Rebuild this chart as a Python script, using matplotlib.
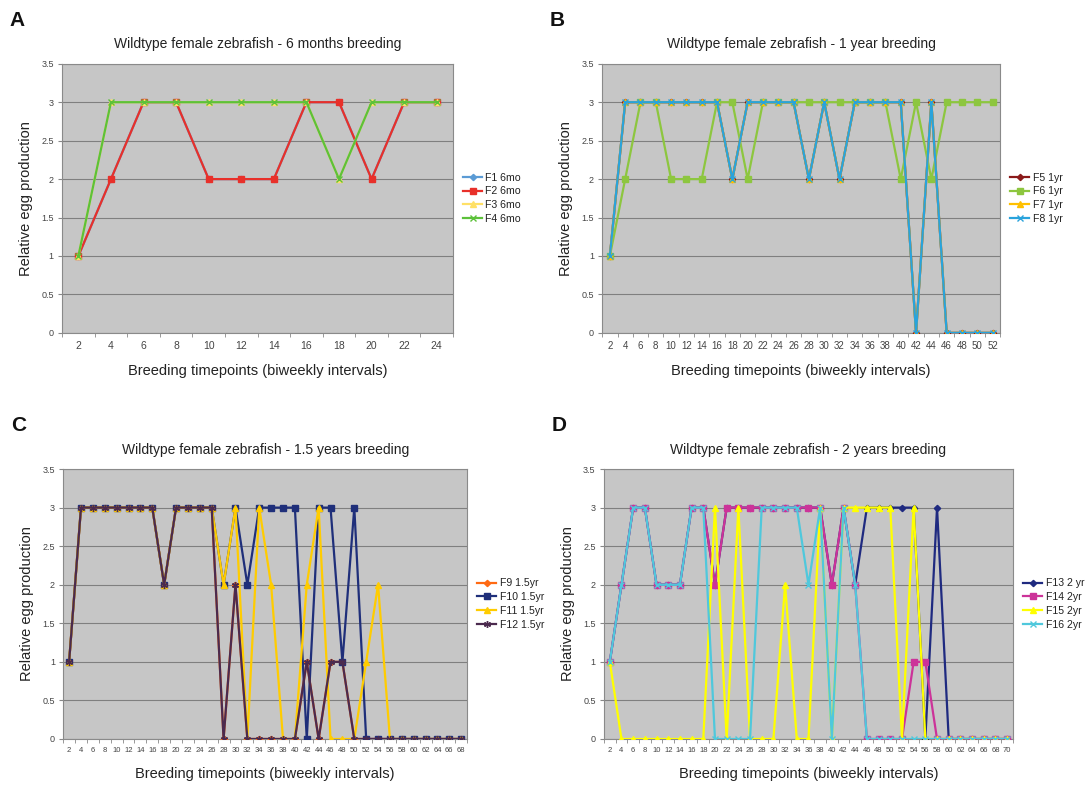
import matplotlib
matplotlib.use("Agg")
import matplotlib.pyplot as plt
from matplotlib.ticker import FixedLocator, FuncFormatter

plt.rcParams['font.family'] = ['Liberation Sans', 'DejaVu Sans']

# ---------------- Data ----------------
# Panel A: 6 months
xA = [2, 4, 6, 8, 10, 12, 14, 16, 18, 20, 22, 24]
F1 = [1, 2, 3, 3, 2, 2, 2, 3, 3, 2, 3, 3]
F2 = [1, 2, 3, 3, 2, 2, 2, 3, 3, 2, 3, 3]
F3 = [1, 3, 3, 3, 3, 3, 3, 3, 2, 3, 3, 3]
F4 = [1, 3, 3, 3, 3, 3, 3, 3, 2, 3, 3, 3]

# Panel B: 1 year
xB = list(range(2, 53, 2))
F5 = [1, 3, 3, 3, 3, 3, 3, 3, 2, 3, 3, 3, 3, 2, 3, 2, 3, 3, 3, 3, 0, 3, 0, 0, 0, 0]
F6 = [1, 2, 3, 3, 2, 2, 2, 3, 3, 2, 3, 3, 3, 3, 3, 3, 3, 3, 3, 2, 3, 2, 3, 3, 3, 3]
F7 = [1, 3, 3, 3, 3, 3, 3, 3, 2, 3, 3, 3, 3, 2, 3, 2, 3, 3, 3, 3, 0, 3, 0, 0, 0, 0]
F8 = [1, 3, 3, 3, 3, 3, 3, 3, 2, 3, 3, 3, 3, 2, 3, 2, 3, 3, 3, 3, 0, 3, 0, 0, 0, 0]

# Panel C: 1.5 years
xC = list(range(2, 69, 2))
F9 = [1, 3, 3, 3, 3, 3, 3, 3, 2, 3, 3, 3, 3, 0, 2, 0, 0, 0, 0, 0, 1, 0, 1, 1, 0,
      0, 0, 0, 0, 0, 0, 0, 0, 0]
F10 = [1, 3, 3, 3, 3, 3, 3, 3, 2, 3, 3, 3, 3, 2, 3, 2, 3, 3, 3, 3, 0, 3, 3, 1, 3,
       0, 0, 0, 0, 0, 0, 0, 0, 0]
F11 = [1, 3, 3, 3, 3, 3, 3, 3, 2, 3, 3, 3, 3, 2, 3, 0, 3, 2, 0, 0, 2, 3, 0, 0, 0,
       1, 2, 0, 0, 0, 0, 0, 0, 0]
F12 = [1, 3, 3, 3, 3, 3, 3, 3, 2, 3, 3, 3, 3, 0, 2, 0, 0, 0, 0, 0, 1, 0, 1, 1, 0,
       0, 0, 0, 0, 0, 0, 0, 0, 0]

# Panel D: 2 years
xD = list(range(2, 71, 2))
F13 = [1, 2, 3, 3, 2, 2, 2, 3, 3, 2, 3, 3, 3, 3, 3, 3, 3, 3, 3, 2, 3, 2, 3, 3, 3,
       3, 3, 0, 3, 0, 0, 0, 0, 0, 0]
F14 = [1, 2, 3, 3, 2, 2, 2, 3, 3, 2, 3, 3, 3, 3, 3, 3, 3, 3, 3, 2, 3, 2, 0, 0, 0,
       0, 1, 1, 0, 0, 0, 0, 0, 0, 0]
F15 = [1, 0, 0, 0, 0, 0, 0, 0, 0, 3, 0, 3, 0, 0, 0, 2, 0, 0, 3, 0, 3, 3, 3, 3, 3,
       0, 3, 0, 0, 0, 0, 0, 0, 0, 0]
F16 = [1, 2, 3, 3, 2, 2, 2, 3, 3, 0, 0, 0, 0, 3, 3, 3, 3, 2, 3, 0, 3, 2, 0, 0, 0,
       0, 0, 0, 0, 0, 0, 0, 0, 0, 0]

yticks = [0, 0.5, 1, 1.5, 2, 2.5, 3, 3.5]

panels = [
    dict(letter='A', title='Wildtype female zebrafish - 6 months breeding', x=xA,
         series=[('F1 6mo', F1, '#5b9bd5', 'D'), ('F2 6mo', F2, '#e8302a', 's'),
                 ('F3 6mo', F3, '#ffe066', '^'), ('F4 6mo', F4, '#5cc13a', 'x')],
         rect=[0.057, 0.577, 0.359, 0.342], tfs=7.5),
    dict(letter='B', title='Wildtype female zebrafish - 1 year breeding', x=xB,
         series=[('F5 1yr', F5, '#8b1a1a', 'D'), ('F6 1yr', F6, '#8dc63f', 's'),
                 ('F7 1yr', F7, '#ffc000', '^'), ('F8 1yr', F8, '#29a3dc', 'x')],
         rect=[0.553, 0.577, 0.3655, 0.342], tfs=7),
    dict(letter='C', title='Wildtype female zebrafish - 1.5 years breeding', x=xC,
         series=[('F9 1.5yr', F9, '#ff6a13', 'D'), ('F10 1.5yr', F10, '#1f2f7a', 's'),
                 ('F11 1.5yr', F11, '#ffcc00', '^'), ('F12 1.5yr', F12, '#4b2a4e', (6, 2, 0))],
         rect=[0.058, 0.061, 0.371, 0.343], tfs=5.5),
    dict(letter='D', title='Wildtype female zebrafish - 2 years breeding', x=xD,
         series=[('F13 2 yr', F13, '#1f2a80', 'D'), ('F14 2yr', F14, '#cc3399', 's'),
                 ('F15 2yr', F15, '#ffff00', '^'), ('F16 2yr', F16, '#4fc8dc', 'x')],
         rect=[0.5546, 0.061, 0.3756, 0.343], tfs=5.5),
]

msizes = {'D': 3.2, 's': 4.3, '^': 4.8, 'x': 4.5}

fig = plt.figure(figsize=(10.89, 7.87), dpi=100)
fig.patch.set_facecolor('white')

for p in panels:
    ax = fig.add_axes(p['rect'])
    ax.set_facecolor('#c6c6c6')
    n = len(p['x'])
    idx = list(range(n))
    for lab, vals, col, mk in p['series']:
        ms = msizes.get(mk, 4.8) if isinstance(mk, str) else 5
        ax.plot(idx, vals, color=col, lw=1.6, marker=mk, ms=ms,
                mec=col, mfc=col, mew=1.0, label=lab, zorder=3)
    ax.set_xlim(-0.5, n - 0.5)
    ax.set_ylim(0, 3.5)
    ax.set_yticks(yticks)
    ax.yaxis.set_major_formatter(FuncFormatter(lambda v, pos: '%g' % v))
    ax.set_xticks(idx)
    ax.set_xticklabels([str(v) for v in p['x']])
    ax.xaxis.set_minor_locator(FixedLocator([i - 0.5 for i in range(n + 1)]))
    ax.tick_params(axis='x', which='major', length=0, labelsize=p['tfs'],
                   colors='#444444', pad=6)
    ax.tick_params(axis='x', which='minor', length=3, color='#888888')
    ax.tick_params(axis='y', length=3, color='#888888', labelsize=6.5,
                   labelcolor='#444444', pad=3)
    ax.grid(axis='y', color='#7f7f7f', lw=0.8, zorder=1)
    ax.set_axisbelow(True)
    for s in ax.spines.values():
        s.set_color('#8a8a8a')
        s.set_linewidth(0.8)
    ax.set_title(p['title'], fontsize=10, pad=11, color='#222222')
    ax.set_ylabel('Relative egg production', fontsize=10.5, labelpad=6, color='#222222')
    ax.set_xlabel('Breeding timepoints (biweekly intervals)', fontsize=10.5,
                  labelpad=9, color='#222222')
    leg = ax.legend(loc='center left', bbox_to_anchor=(1.015, 0.5),
                    frameon=False, fontsize=7.6, handlelength=1.8,
                    handletextpad=0.3, labelspacing=0.35, borderaxespad=0)
    for t in leg.get_texts():
        t.set_color('#222222')
    fx = p['rect'][0] - 0.048
    fy = p['rect'][1] + p['rect'][3] + 0.055
    fig.text(fx, fy, p['letter'], fontsize=15, fontweight='bold', va='center',
             ha='left', color='#111111')

fig.savefig('out.png', dpi=100, facecolor='white')
